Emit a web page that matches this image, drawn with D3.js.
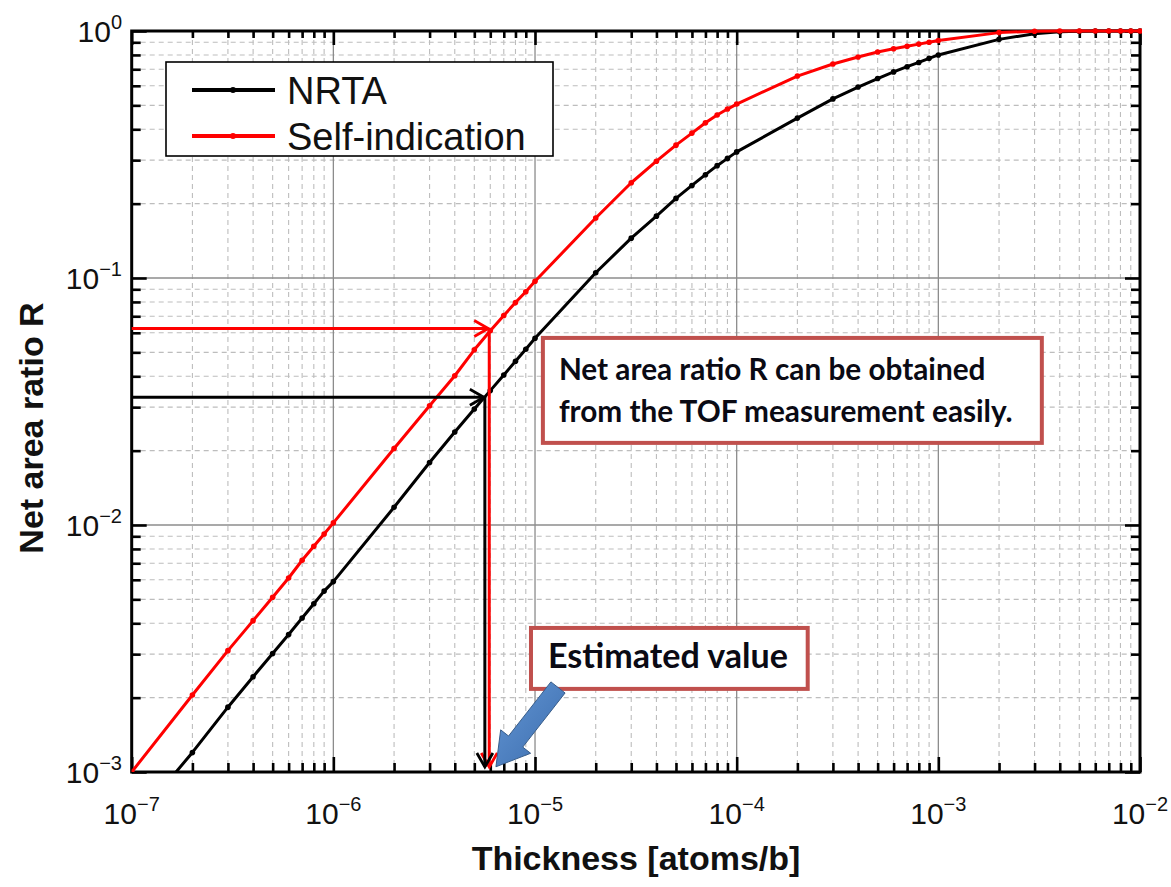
<!DOCTYPE html>
<html><head><meta charset="utf-8">
<script src="https://cdn.jsdelivr.net/npm/d3@7"></script>
<style>body{margin:0;background:#fff}svg{display:block}</style>
</head><body><svg id="c" width="1171" height="887"></svg>
<script>
// ---------------- data ----------------
const thickness = [
  1e-7,2e-7,3e-7,4e-7,5e-7,6e-7,7e-7,8e-7,9e-7,
  1e-6,2e-6,3e-6,4e-6,5e-6,6e-6,7e-6,8e-6,9e-6,
  1e-5,2e-5,3e-5,4e-5,5e-5,6e-5,7e-5,8e-5,9e-5,
  1e-4,2e-4,3e-4,4e-4,5e-4,6e-4,7e-4,8e-4,9e-4,
  1e-3,2e-3,3e-3,4e-3,5e-3,6e-3,7e-3,8e-3,9e-3,
  1e-2];
const nrta = [
  0.00061,0.0012,0.00183,0.00243,0.00302,0.0036,0.0042,0.0048,0.0054,
  0.0059,0.0118,0.0179,0.0238,0.0295,0.035,0.0405,0.046,0.0515,
  0.057,0.105,0.145,0.178,0.21,0.237,0.262,0.285,0.305,
  0.324,0.444,0.531,0.593,0.642,0.683,0.717,0.746,0.775,
  0.80,0.925,0.975,0.993,0.998,1,1,1,1,
  1];
const selfIndication = [
  0.00100,0.00205,0.0031,0.0041,0.0051,0.0061,0.0072,0.0082,0.0092,
  0.0102,0.0204,0.0304,0.0402,0.0512,0.0612,0.0705,0.0795,0.088,
  0.097,0.175,0.243,0.297,0.345,0.386,0.425,0.457,0.483,
  0.506,0.657,0.735,0.785,0.822,0.848,0.868,0.885,0.90,
  0.915,0.985,0.998,1,1,1,1,1,1,
  1];
const xExponents = [-7,-6,-5,-4,-3,-2];
const yExponents = [-3,-2,-1,0];
const legendLabels = ["NRTA","Self-indication"];
const seriesColors = ["#000000","#ff0000"];
const estimates = [
  {t:5.93e-6, r:0.0625, color:"#ff0000"},
  {t:5.64e-6, r:0.0329, color:"#000000"}];
const note1Lines = ["Net area ratio R can be obtained","from the TOF measurement easily."];
const note2Lines = ["Estimated value"];
const note1Box = {t0:1.094e-5, t1:3.26e-3, r0:0.0572, r1:0.0215};
const note2Box = {t0:9.55e-6, t1:2.25e-4, r0:3.83e-3, r1:2.17e-3};
const pointer = {fromT:1.3e-5, fromR:2.2e-3, toT:6.4e-6, toR:1.05e-3};
const xTitle = "Thickness [atoms/b]";
const yTitle = "Net area ratio R";

// ---------------- drawing ----------------
const svg = d3.select("#c");
const X0 = 131.7, X1 = 1140, Y0 = 772, Y1 = 31;
const x = d3.scaleLog().domain([1e-7,1e-2]).range([X0,X1]);
const y = d3.scaleLog().domain([1e-3,1]).range([Y0,Y1]);
const isMajor = v => Math.abs(Math.log10(v) - Math.round(Math.log10(v))) < 1e-6;
const xTicks = x.ticks(), yTicks = y.ticks();
const labelFont = "'Liberation Sans', Arial, sans-serif";

const defs = svg.append("defs");
defs.append("clipPath").attr("id","plot").append("rect")
  .attr("x",X0).attr("y",Y1-3).attr("width",X1-X0+2).attr("height",Y0-Y1+3);
const grad = defs.append("linearGradient").attr("id","blue")
  .attr("x1","0").attr("y1","0").attr("x2","1").attr("y2","1");
grad.append("stop").attr("offset","0").attr("stop-color","#6396d4");
grad.append("stop").attr("offset","1").attr("stop-color","#3b6cad");

svg.append("rect").attr("width",1171).attr("height",887).attr("fill","#fff");

// grid
const grid = svg.append("g");
grid.selectAll(".gxm").data(xTicks.filter(v=>!isMajor(v))).join("line")
  .attr("x1",d=>x(d)).attr("x2",d=>x(d)).attr("y1",Y1).attr("y2",Y0)
  .attr("stroke","#bdbdbd").attr("stroke-width",1.1).attr("stroke-dasharray","5,4");
grid.selectAll(".gym").data(yTicks.filter(v=>!isMajor(v))).join("line")
  .attr("y1",d=>y(d)).attr("y2",d=>y(d)).attr("x1",X0).attr("x2",X1)
  .attr("stroke","#bdbdbd").attr("stroke-width",1.1).attr("stroke-dasharray","5,4");
grid.selectAll(".gxM").data(xTicks.filter(isMajor)).join("line")
  .attr("x1",d=>x(d)).attr("x2",d=>x(d)).attr("y1",Y1).attr("y2",Y0)
  .attr("stroke","#8c8c8c").attr("stroke-width",1.3);
grid.selectAll(".gyM").data(yTicks.filter(isMajor)).join("line")
  .attr("y1",d=>y(d)).attr("y2",d=>y(d)).attr("x1",X0).attr("x2",X1)
  .attr("stroke","#8c8c8c").attr("stroke-width",1.3);

// frame
svg.append("rect").attr("x",X0).attr("y",Y1).attr("width",X1-X0).attr("height",Y0-Y1)
  .attr("fill","none").attr("stroke","#000").attr("stroke-width",3);

// ticks via d3 axes
function tickAxis(axisFn, scale, vals, size, transform){
  const g = svg.append("g").attr("transform",transform)
    .call(axisFn(scale).tickValues(vals).tickSize(size).tickFormat(""));
  g.select(".domain").remove();
  g.selectAll(".tick line").attr("stroke","#000").attr("stroke-width",2.6);
}
const xMin = xTicks.filter(v=>!isMajor(v)), xMaj = xTicks.filter(isMajor);
const yMin = yTicks.filter(v=>!isMajor(v)), yMaj = yTicks.filter(isMajor);
tickAxis(d3.axisBottom, x, xMin, -9, `translate(0,${Y0})`);
tickAxis(d3.axisBottom, x, xMaj, -15, `translate(0,${Y0})`);
tickAxis(d3.axisTop, x, xMin, -7, `translate(0,${Y1})`);
tickAxis(d3.axisTop, x, xMaj, -14, `translate(0,${Y1})`);
tickAxis(d3.axisLeft, y, yMin, -9, `translate(${X0},0)`);
tickAxis(d3.axisLeft, y, yMaj, -15, `translate(${X0},0)`);
tickAxis(d3.axisRight, y, yMin, -9, `translate(${X1},0)`);
tickAxis(d3.axisRight, y, yMaj, -15, `translate(${X1},0)`);

// tick labels
xExponents.forEach(e=>{
  const t = svg.append("text").attr("x",x(Math.pow(10,e))).attr("y",824)
    .attr("text-anchor","middle").attr("font-family",labelFont).attr("fill","#111");
  t.append("tspan").attr("font-size",30).text("10");
  t.append("tspan").attr("font-size",20).attr("dy",-13).text("\u2212"+Math.abs(e));
});
yExponents.forEach(e=>{
  const t = svg.append("text").attr("x",122).attr("y",y(Math.pow(10,e))+11)
    .attr("text-anchor","end").attr("font-family",labelFont).attr("fill","#111");
  t.append("tspan").attr("font-size",30).text("10");
  t.append("tspan").attr("font-size",20).attr("dy",-13).text(e===0?"0":"\u2212"+Math.abs(e));
});

// axis titles
svg.append("text").attr("x",636).attr("y",870).attr("text-anchor","middle")
  .attr("font-family",labelFont).attr("font-weight","bold").attr("font-size",34).attr("fill","#111")
  .text(xTitle);
svg.append("text").attr("transform","translate(43,428) rotate(-90)").attr("text-anchor","middle")
  .attr("font-family",labelFont).attr("font-weight","bold").attr("font-size",34).attr("fill","#111")
  .text(yTitle);

// curves
const series = [nrta, selfIndication];
const line = d3.line().x(d=>x(d.t)).y(d=>y(d.r));
const curves = svg.append("g").attr("clip-path","url(#plot)");
series.forEach((vals,i)=>{
  const pts = thickness.map((t,j)=>({t, r:vals[j]}));
  curves.append("path").datum(pts).attr("d",line).attr("fill","none")
    .attr("stroke",seriesColors[i]).attr("stroke-width",3).attr("stroke-linejoin","round");
  curves.selectAll(null).data(pts).join("circle")
    .attr("cx",d=>x(d.t)).attr("cy",d=>y(d.r)).attr("r",2.8).attr("fill",seriesColors[i]);
});

// estimate arrows
function chevron(g, tx, ty, dx, dy, color){
  const nx=-dy, ny=dx, back=14, half=8;
  g.append("path").attr("d",`M${tx-back*dx+half*nx},${ty-back*dy+half*ny} L${tx},${ty} L${tx-back*dx-half*nx},${ty-back*dy-half*ny}`)
    .attr("fill","none").attr("stroke",color).attr("stroke-width",2.8).attr("stroke-linejoin","miter");
}
const arrows = svg.append("g");
estimates.forEach(e=>{
  const px = x(e.t), py = y(e.r);
  arrows.append("line").attr("x1",X0).attr("x2",px-1).attr("y1",py).attr("y2",py)
    .attr("stroke",e.color).attr("stroke-width",3);
  chevron(arrows, px-1, py, 1, 0, e.color);
  arrows.append("line").attr("x1",px).attr("x2",px).attr("y1",py).attr("y2",Y0-5)
    .attr("stroke",e.color).attr("stroke-width",3);
  chevron(arrows, px, Y0-5, 0, 1, e.color);
});

// legend
const lg = svg.append("g");
lg.append("rect").attr("x",166).attr("y",62).attr("width",387).attr("height",94)
  .attr("fill","#fff").attr("stroke","#000").attr("stroke-width",1.6);
legendLabels.forEach((lab,i)=>{
  const ly = 90 + i*46;
  lg.append("line").attr("x1",192).attr("x2",275).attr("y1",ly).attr("y2",ly)
    .attr("stroke",seriesColors[i]).attr("stroke-width",4);
  lg.append("circle").attr("cx",233).attr("cy",ly).attr("r",3).attr("fill",seriesColors[i]);
  lg.append("text").attr("x",287).attr("y",ly+14).attr("font-family",labelFont)
    .attr("font-size",38).attr("fill","#111").text(lab);
});

// annotation boxes
const noteFont = "Lato, 'Open Sans', sans-serif";
function noteBox(b, lines, textX, baselines, targetWidth, widestIdx){
  const g = svg.append("g");
  g.append("rect").attr("x",x(b.t0)).attr("y",y(b.r0))
    .attr("width",x(b.t1)-x(b.t0)).attr("height",y(b.r1)-y(b.r0))
    .attr("fill","#fff").attr("stroke","#c0504d").attr("stroke-width",4);
  const texts = lines.map((l,i)=>g.append("text").attr("x",textX).attr("y",baselines[i])
    .attr("font-family",noteFont).attr("font-weight",700).attr("font-size",28)
    .attr("fill","#0a0a14").text(l));
  const w = texts[widestIdx].node().getComputedTextLength();
  const fs = 28*targetWidth/w;
  texts.forEach(t=>t.attr("font-size",fs));
}
noteBox(note1Box, note1Lines, x(note1Box.t0)+16, [380,422], 454, 1);
noteBox(note2Box, note2Lines, x(note2Box.t0)+17, [668], 240, 0);

// blue pointer arrow
(function(){
  const ax=x(pointer.fromT), ay=y(pointer.fromR), bx=x(pointer.toT), by=y(pointer.toR);
  const L=Math.hypot(bx-ax,by-ay), dx=(bx-ax)/L, dy=(by-ay)/L, nx=-dy, ny=dx;
  const hl=32, hw=19, sw=9;
  const cx=bx-hl*dx, cy=by-hl*dy;
  const pts=[[ax+sw*nx,ay+sw*ny],[cx+sw*nx,cy+sw*ny],[cx+hw*nx,cy+hw*ny],[bx,by],
             [cx-hw*nx,cy-hw*ny],[cx-sw*nx,cy-sw*ny],[ax-sw*nx,ay-sw*ny]];
  svg.append("path").attr("d","M"+pts.map(p=>p.join(",")).join("L")+"Z")
    .attr("fill","url(#blue)").attr("stroke","#385d8a").attr("stroke-width",1);
})();
</script>
</body></html>
